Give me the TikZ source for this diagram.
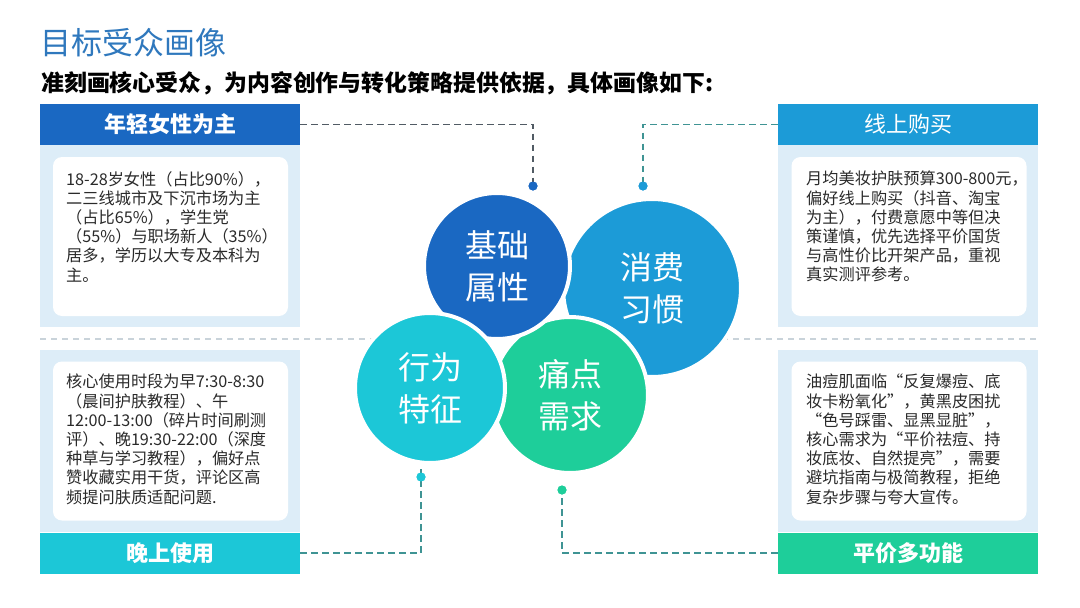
\documentclass[tikz,border=0pt]{standalone}
\usepackage{fontspec}
\setmainfont{Noto Sans CJK SC}
\usepackage{xcolor}
\usepackage{tikz}

\definecolor{titleblue}{HTML}{2F78BD}
\definecolor{basicblue}{HTML}{1A68C2}
\definecolor{buyblue}{HTML}{1C9BD7}
\definecolor{usecyan}{HTML}{1CC7D7}
\definecolor{pricegreen}{HTML}{1ECE9A}
\definecolor{panelblue}{HTML}{DDEDF8}
\definecolor{bodygray}{HTML}{2A2A2A}
\definecolor{linkgray}{HTML}{515B64}
\definecolor{linkteal}{HTML}{3F9494}
\definecolor{midgray}{HTML}{C9D3DA}

\tikzset{
  hdr/.style={minimum width=260pt, minimum height=41pt, inner sep=0pt, text=white,
    font=\fontsize{22}{24}\selectfont\bfseries},
  panel/.style={fill=panelblue, minimum width=260pt, minimum height=182pt, inner sep=0pt},
  card/.style={fill=white, rounded corners=9pt, minimum width=235pt, minimum height=159pt, inner sep=0pt},
  bodytext/.style={anchor=north west, align=left, inner sep=0pt, text=bodygray,
    font=\fontsize{16.2}{19.2}\selectfont},
  bubble/.style={circle, draw=white, line width=4pt, inner sep=0pt, text=white, align=center,
    font=\fontsize{32}{42}\selectfont},
  dot/.style={circle, inner sep=0pt, minimum size=9pt},
  link/.style={line width=1.9pt, dash pattern=on 6.5pt off 4.5pt},
}

\begin{document}
\begin{tikzpicture}[x=1pt, y=-1pt]
  \useasboundingbox (0,0) rectangle (1080,608);

  % title
  \node[anchor=west, inner sep=0pt, text=titleblue, font=\fontsize{31}{33}\selectfont] (title) at (40,43) {目标受众画像};
  \node[anchor=west, inner sep=0pt, font=\fontsize{22.9}{24}\selectfont\bfseries] (subtitle) at (41,83)
    {准刻画核心受众，为内容创作与转化策略提供依据，具体画像如下:};

  % panels
  \node[panel] (pBasic) at (170,236) {};
  \node[panel] (pBuy) at (908,236) {};
  \node[panel] (pUse) at (170,441) {};
  \node[panel] (pPrice) at (908,441) {};
  \node[card] (kBasic) at (170.5,236.5) {};
  \node[card] (kBuy) at (909,236.5) {};
  \node[card] (kUse) at (170.5,441) {};
  \node[card] (kPrice) at (909,441) {};

  % headers
  \node[hdr, fill=basicblue] (hBasic) at (170,124.5) {年轻女性为主};
  \node[hdr, fill=buyblue, font=\fontsize{22}{24}\selectfont] (hBuy) at (908,124.5) {线上购买};
  \node[hdr, fill=usecyan] (hUse) at (170,553) {晚上使用};
  \node[hdr, fill=pricegreen] (hPrice) at (908,553) {平价多功能};

  % texts
  \node[bodytext] (tBasic) at (66,171) {18-28岁女性（占比90\%），\\二三线城市及下沉市场为主\\（占比65\%），学生党\\（55\%）与职场新人（35\%）\\居多，学历以大专及本科为\\主。};
  \node[bodytext] (tBuy) at (806,171) {月均美妆护肤预算300-800元，\\偏好线上购买（抖音、淘宝\\为主），付费意愿中等但决\\策谨慎，优先选择平价国货\\与高性价比开架产品，重视\\真实测评参考。};
  \node[bodytext] (tUse) at (66,374) {核心使用时段为早7:30-8:30\\（晨间护肤教程）、午\\12:00-13:00（碎片时间刷测\\评）、晚19:30-22:00（深度\\种草与学习教程），偏好点\\赞收藏实用干货，评论区高\\频提问肤质适配问题.};
  \node[bodytext] (tPrice) at (806,374) {油痘肌面临“反复爆痘、底\\妆卡粉氧化”，黄黑皮困扰\\“色号踩雷、显黑显脏”，\\核心需求为“平价祛痘、持\\妆底妆、自然提亮”，需要\\避坑指南与极简教程，拒绝\\复杂步骤与夸大宣传。};

  % middle divider
  \coordinate (midL) at (40,339);
  \coordinate (midR) at (1040,339);
  \draw[midgray, line width=1.5pt, dash pattern=on 6pt off 5pt] (midL) -- (midR);

  % bubbles
  \node[bubble, fill=buyblue, minimum size=178pt] (cBuy) at (652,288) {消费\\习惯};
  \node[bubble, fill=pricegreen, minimum size=156pt] (cPrice) at (570,395) {痛点\\需求};
  \node[bubble, fill=basicblue, minimum size=146pt] (cBasic) at (497,266) {基础\\属性};
  \node[bubble, fill=usecyan, minimum size=150pt] (cUse) at (430,388) {行为\\特征};

  % dots
  \node[dot, fill=basicblue] (dBasic) at (533,186) {};
  \node[dot, fill=buyblue] (dBuy) at (643,186) {};
  \node[dot, fill=usecyan] (dUse) at (421,477) {};
  \node[dot, fill=pricegreen] (dPrice) at (562,490) {};

  % links
  \draw[link, linkgray] (hBasic.east) -| (dBasic.center);
  \draw[link, linkteal] (hBuy.west) -| (dBuy.center);
  \draw[link, linkteal] (hUse.east) -| (dUse.center) -- (dUse.center |- cUse.south);
  \draw[link, linkteal] (hPrice.west) -| (dPrice.center);

  % dots on top
  \node[dot, fill=basicblue] at (dBasic) {};
  \node[dot, fill=buyblue] at (dBuy) {};
  \node[dot, fill=usecyan] at (dUse) {};
  \node[dot, fill=pricegreen] at (dPrice) {};
\end{tikzpicture}
\end{document}
